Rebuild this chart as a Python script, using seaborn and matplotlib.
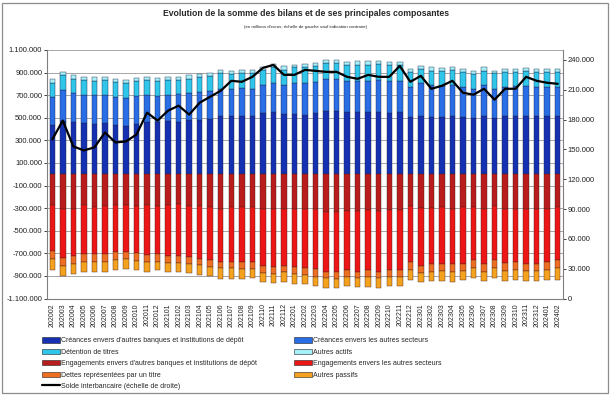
"""
Evolution de la somme des bilans et de ses principales composantes.

Stacked monthly bars (assets up, liabilities down) with the interbank
balance as a line on the right axis. Saves out.png.
"""

import matplotlib.pyplot as plt
import numpy as np
import seaborn as sns
from matplotlib.patches import Patch, Rectangle
from matplotlib.lines import Line2D

# --- data (thousands of millions of euros) ---------------------------------
periods = [
    "202002", "202003", "202004", "202005", "202006", "202007", "202008",
    "202009", "202010", "202011", "202012", "202101", "202102", "202103",
    "202104", "202105", "202106", "202107", "202108", "202109", "202110",
    "202111", "202112", "202201", "202202", "202203", "202204", "202205",
    "202206", "202207", "202208", "202209", "202210", "202211", "202212",
    "202301", "202302", "202303", "202304", "202305", "202306", "202307",
    "202308", "202309", "202310", "202311", "202312", "202401", "202402",
]

creances_banques = [
    438, 474, 462, 453, 447, 453, 435, 429, 447, 465,
    459, 470, 465, 476, 482, 488, 515, 515, 518, 515,
    541, 550, 529, 535, 527, 541, 559, 562, 547, 553,
    550, 553, 544, 553, 506, 518, 509, 509, 512, 503,
    500, 512, 500, 512, 512, 512, 512, 512, 512,
]
creances_secteurs = [
    244, 273, 256, 253, 256, 250, 247, 242, 247, 241,
    235, 236, 247, 242, 247, 253, 244, 244, 247, 244,
    247, 256, 259, 271, 279, 277, 282, 279, 282, 276,
    279, 282, 285, 276, 270, 288, 279, 273, 282, 273,
    259, 282, 259, 264, 270, 270, 264, 264, 264,
]
titres = [
    130, 129, 129, 129, 126, 132, 135, 135, 130, 129,
    130, 129, 124, 129, 130, 129, 135, 129, 129, 136,
    135, 147, 136, 141, 141, 141, 142, 142, 136, 142,
    142, 142, 136, 136, 130, 124, 130, 130, 130, 130,
    130, 124, 135, 130, 124, 130, 130, 130, 130,
]
autres_actifs = [
    29, 27, 29, 30, 30, 30, 30, 29, 29, 30,
    29, 30, 29, 29, 29, 29, 27, 30, 27, 29,
    30, 23, 30, 24, 29, 29, 29, 29, 29, 29,
    29, 29, 29, 29, 29, 29, 29, 29, 29, 29,
    29, 29, 24, 29, 29, 29, 29, 29, 29,
]

engagements_banques = [
    269, 307, 307, 272, 289, 278, 272, 272, 283, 272,
    278, 272, 260, 283, 278, 289, 307, 289, 289, 289,
    307, 307, 307, 307, 307, 307, 331, 331, 325, 325,
    319, 325, 319, 319, 284, 296, 296, 290, 307, 290,
    290, 307, 284, 307, 307, 307, 307, 307, 290,
]
engagements_secteurs = [
    414, 438, 414, 435, 418, 429, 420, 414, 417, 443,
    431, 449, 461, 450, 470, 468, 468, 486, 491, 491,
    503, 515, 503, 515, 523, 532, 531, 537, 525, 537,
    531, 537, 531, 531, 496, 513, 501, 501, 490, 501,
    472, 490, 478, 479, 467, 484, 484, 467, 472,
]
dettes_titre = [
    68, 71, 71, 71, 71, 71, 71, 65, 69, 65,
    65, 65, 65, 65, 56, 65, 59, 59, 60, 60,
    65, 59, 59, 65, 65, 70, 59, 59, 59, 59,
    59, 59, 59, 59, 70, 65, 71, 65, 71, 65,
    65, 65, 65, 70, 71, 65, 65, 71, 71,
]
autres_passifs = [
    95, 89, 89, 91, 88, 88, 83, 89, 83, 83,
    78, 83, 77, 77, 86, 83, 89, 89, 83, 80,
    77, 83, 83, 83, 80, 77, 89, 83, 83, 77,
    89, 83, 83, 83, 89, 82, 77, 89, 88, 83,
    88, 83, 88, 89, 88, 89, 89, 88, 100,
]

solde_interbancaire = [
    160, 179, 153, 149, 152, 167, 157, 158, 165, 187,
    179, 189, 194, 185, 197, 203, 209, 219, 218, 223,
    232, 235, 225, 225, 230, 229, 228, 228, 223, 221,
    225, 223, 223, 234, 218, 224, 211, 214, 219, 207,
    205, 211, 200, 211, 211, 223, 219, 217, 216,
]

assets = [
    ("Créances envers d'autres banques et institutions de dépôt", creances_banques, "#1530b0"),
    ("Créances envers les autres secteurs", creances_secteurs, "#2a6ee6"),
    ("Détention de titres", titres, "#30c6ea"),
    ("Autres actifs", autres_actifs, "#a6f0f8"),
]
liabilities = [
    ("Engagements envers d'autres banques et institutions de dépôt", engagements_banques, "#b81c1c"),
    ("Engagements envers les autres secteurs", engagements_secteurs, "#ec1616"),
    ("Dettes représentées par un titre", dettes_titre, "#ee6e22"),
    ("Autres passifs", autres_passifs, "#f4a21e"),
]
line_label = "Solde interbancaire (échelle de droite)"


def fmt_thousands(v, _pos=None):
    return f"{v:,.0f}".replace(",", ".")


sns.set_theme(style="white")
plt.rcParams["font.family"] = ["Liberation Sans", "DejaVu Sans"]

fig = plt.figure(figsize=(6.12, 3.95), dpi=100)
ax = fig.add_axes([47 / 612, 1 - 298.5 / 395, 516 / 612, 248.5 / 395])

x = np.arange(len(periods))
width = 0.52

bottom = np.zeros(len(periods))
for label, values, color in assets:
    vals = np.array(values) * 1000
    ax.bar(x, vals, width, bottom=bottom, color=color, edgecolor="#1c2448",
           linewidth=0.3, label=label, zorder=2)
    bottom += vals

bottom = np.zeros(len(periods))
for label, values, color in liabilities:
    vals = -np.array(values) * 1000
    ax.bar(x, vals, width, bottom=bottom, color=color, edgecolor="#48241c",
           linewidth=0.3, label=label, zorder=2)
    bottom += vals

ax.set_xlim(-0.5, len(periods) - 0.5)
ax.set_ylim(-1_100_000, 1_100_000)
ax.set_yticks(np.arange(-1_100_000, 1_100_001, 200_000))
ax.yaxis.set_major_formatter(fmt_thousands)
ax.set_xticks(x)
ax.set_xticklabels(periods, rotation=90)
ax.tick_params(axis="y", labelsize=5.5, length=2, width=0.6, pad=1.5, colors="#222222")
ax.tick_params(axis="x", labelsize=5.0, length=2, width=0.6, pad=1.5, colors="#222222")
ax.grid(axis="y", color="#a6a6a6", linewidth=0.7, zorder=0)
ax.set_axisbelow(True)
for side in ("top", "right"):
    ax.spines[side].set_visible(False)
for side in ("left", "bottom"):
    ax.spines[side].set_color("#7f7f7f")
    ax.spines[side].set_linewidth(0.8)

ax2 = ax.twinx()
sns.lineplot(x=x, y=np.array(solde_interbancaire) * 1000, ax=ax2,
             color="black", linewidth=1.6, zorder=3)
ax2.set_ylim(0, 250_000)
ax2.set_yticks(np.arange(0, 240_001, 30_000))
ax2.yaxis.set_major_formatter(fmt_thousands)
ax2.tick_params(axis="y", labelsize=5.5, length=2, width=0.6, pad=1.5, colors="#222222")
ax2.set_ylabel("")
ax2.grid(False)
for side in ("top", "left", "bottom"):
    ax2.spines[side].set_visible(False)
ax2.spines["right"].set_color("#7f7f7f")
ax2.spines["right"].set_linewidth(0.8)

fig.text(0.5, 1 - 14 / 395, "Evolution de la somme des bilans et de ses principales composantes",
         ha="center", va="center", fontsize=6.2, fontweight="bold",
         family=["Liberation Sans Narrow", "Liberation Sans"])
fig.text(0.5, 1 - 27 / 395,
         "(en millions d'euros; échelle de gauche sauf indication contraire)",
         ha="center", va="center", fontsize=3.2)

# legend: two columns, assets/liabilities paired by row
handles = []
labels = []
col1 = [assets[0], assets[2], liabilities[0], liabilities[2]]
col2 = [assets[1], assets[3], liabilities[1], liabilities[3]]
for label, _vals, color in col1:
    handles.append(Patch(facecolor=color, edgecolor="#202020", linewidth=0.4))
    labels.append(label)
handles.append(Line2D([0], [0], color="black", linewidth=1.6))
labels.append(line_label)
for label, _vals, color in col2:
    handles.append(Patch(facecolor=color, edgecolor="#202020", linewidth=0.4))
    labels.append(label)

fig.legend(handles, labels, ncol=2, mode="expand", frameon=False,
           bbox_to_anchor=(42 / 612, 1 - 390 / 395, (442 - 42) / 612, 58 / 395),
           loc="lower left", fontsize=5.0, handlelength=2.6, handleheight=0.8,
           handletextpad=0.2, labelspacing=0.62, borderaxespad=0, borderpad=0,
           prop={"family": ["Liberation Sans Narrow", "Liberation Sans"], "size": 5.0})

fig.patches.append(Rectangle((2 / 612, 2 / 395), 606 / 612, 390 / 395,
                             transform=fig.transFigure, fill=False,
                             edgecolor="#8c8c8c", linewidth=0.9))

fig.savefig("out.png", dpi=100)
